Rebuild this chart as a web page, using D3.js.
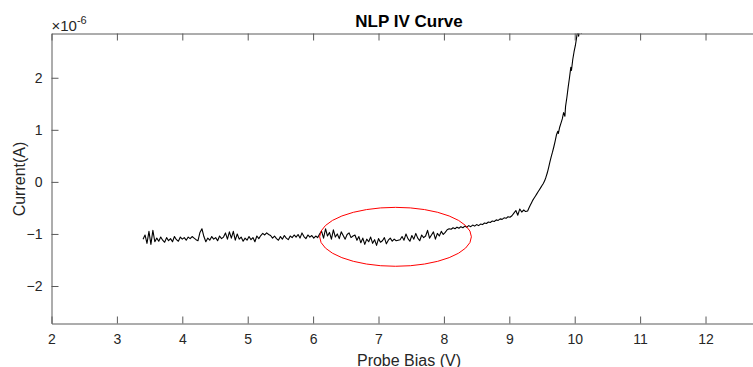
<!DOCTYPE html>
<html>
<head>
<meta charset="utf-8">
<script src="https://cdn.jsdelivr.net/npm/d3@7"></script>
<style>
  body { margin: 0; background: #fff; }
  svg { display: block; }
  text { font-family: "Liberation Sans", Arial, Helvetica, sans-serif; }
</style>
</head>
<body>
<svg id="chart" width="753" height="367"></svg>
<script>
// ---------------- DATA ----------------
const chartTitle = "NLP IV Curve";
const xLabel = "Probe Bias (V)";
const yLabel = "Current(A)";
const yExponent = "-6";

const xTicks = [2, 3, 4, 5, 6, 7, 8, 9, 10, 11, 12];
const yTicks = [-2, -1, 0, 1, 2];
const xDomain = [2, 12.94];
const yDomain = [-2.72, 2.85];   // in units of 1e-6 A

// Probe bias sweep (V)
const biasV = [
  3.40,3.43,3.46,3.49,3.52,3.55,3.58,3.61,3.64,3.67,
  3.70,3.73,3.76,3.79,3.82,3.85,3.88,3.91,3.94,3.97,
  4.00,4.03,4.06,4.09,4.12,4.15,4.18,4.21,4.24,4.27,
  4.30,4.33,4.36,4.39,4.42,4.45,4.48,4.51,4.54,4.57,
  4.60,4.63,4.66,4.69,4.72,4.75,4.78,4.81,4.84,4.87,
  4.90,4.93,4.96,4.99,5.02,5.05,5.08,5.11,5.14,5.17,
  5.20,5.23,5.26,5.29,5.32,5.35,5.38,5.41,5.44,5.47,
  5.50,5.53,5.56,5.59,5.62,5.65,5.68,5.71,5.74,5.77,
  5.80,5.83,5.86,5.89,5.92,5.95,5.98,6.01,6.04,6.07,
  6.10,6.13,6.16,6.19,6.22,6.25,6.28,6.31,6.34,6.37,
  6.40,6.43,6.46,6.49,6.52,6.55,6.58,6.61,6.64,6.67,
  6.70,6.73,6.76,6.79,6.82,6.85,6.88,6.91,6.94,6.97,
  7.00,7.03,7.06,7.09,7.12,7.15,7.18,7.21,7.24,7.27,
  7.30,7.33,7.36,7.39,7.42,7.45,7.48,7.51,7.54,7.57,
  7.60,7.63,7.66,7.69,7.72,7.75,7.78,7.81,7.84,7.87,
  7.90,7.93,7.96,7.99,8.02,8.05,8.08,8.11,8.14,8.17,
  8.20,8.23,8.26,8.29,8.32,8.35,8.38,8.41,8.44,8.47,
  8.50,8.53,8.56,8.59,8.62,8.65,8.68,8.71,8.74,8.77,
  8.80,8.83,8.86,8.89,8.92,8.95,8.98,9.01,9.04,9.07,
  9.10,9.13,9.16,9.19,9.22,9.25,
  9.28,9.30,9.32,9.34,9.36,9.38,9.40,9.42,9.44,9.46,
  9.48,9.50,9.52,9.54,9.56,9.58,9.60,9.62,9.64,9.66,
  9.68,9.70,9.72,9.74,9.75,9.77,9.79,9.81,9.83,9.85,
  9.86,9.88,9.90,9.92,9.94,9.95,9.97,9.99,10.01,10.03,
  10.05,10.06,10.08,10.10,10.12
];

// Probe current (x 1e-6 A)
const currentUA = [
  -1.10,-1.02,-1.18,-0.95,-1.20,-0.93,-1.15,
  -1.08,-1.14,-1.06,-1.12,-1.16,-1.07,-1.13,-1.09,-1.15,-1.05,-1.11,-1.14,-1.06,
  -1.10,-1.07,-1.12,-1.06,-1.09,-1.05,-1.08,-1.11,
  -1.13,-0.97,-0.90,-1.05,-1.15,
  -1.08,-1.12,-1.05,-1.10,-1.07,-1.13,-1.04,-1.09,-1.06,
  -0.98,-1.10,-0.96,-1.08,-0.95,-1.12,-1.00,
  -1.10,-1.06,-1.14,-1.08,-1.12,-1.05,-1.11,-1.07,-1.15,-1.04,-1.09,-1.03,
  -0.99,-1.02,-0.98,-1.01,-1.03,
  -1.08,-1.04,-1.09,-1.12,-1.05,-1.10,-1.03,-1.08,-1.11,-1.04,-1.07,-1.02,
  -1.06,-1.01,-1.08,-0.98,-1.05,-1.09,-1.02,-1.06,-1.03,-1.08,-1.04,-1.07,
  -1.00,-0.95,-1.08,-0.90,-1.04,-0.97,-1.10,-0.92,-1.06,-1.00,-1.09,-0.96,-1.03,-1.10,-1.01,-0.98,-1.07,-1.04,
  -1.02,-1.12,-1.05,-1.17,-1.08,-1.20,-1.10,-1.15,-1.06,-1.18,-1.11,-1.22,-1.09,-1.16,-1.13,-1.07,-1.19,-1.12,-1.08,-1.14,-1.10,-1.13,-1.12,-1.11,
  -1.05,-1.12,-1.00,-1.09,-1.14,-1.03,-1.10,-0.99,-1.08,-1.13,-1.02,-1.07,-1.04,
  -0.93,-1.08,-1.02,-0.96,-1.10,-0.99,-1.04,-0.95,-1.01,-0.97,-0.92,
  -0.90,-0.91,-0.88,-0.90,-0.87,-0.89,-0.86,-0.88,-0.85,-0.87,-0.84,-0.86,-0.83,-0.85,
  -0.82,-0.84,-0.81,-0.82,-0.79,-0.80,-0.77,-0.78,-0.75,-0.76,-0.73,-0.74,-0.71,-0.72,-0.69,-0.70,-0.67,-0.68,-0.65,
  -0.60,-0.55,-0.64,-0.52,-0.58,-0.54,-0.57,
  -0.56,-0.50,-0.45,-0.40,-0.35,-0.31,-0.27,-0.23,-0.19,-0.15,
  -0.11,-0.07,-0.03,0.02,0.09,0.17,0.27,0.38,0.48,0.57,
  0.67,0.78,0.90,0.97,0.93,1.05,1.13,1.21,1.33,1.26,
  1.45,1.62,1.82,2.00,2.20,2.14,2.35,2.50,2.62,2.78,
  2.95,2.80,3.00,2.85,3.10
];

// Highlight ellipse (data units: V, 1e-6 A)
const ellipseCenter = [7.26, -1.055];
const ellipseRadii = [1.16, 0.566];

// ---------------- CHART ----------------
const svg = d3.select("#chart");
const plot = { left: 51.5, right: 767, top: 33.5, bottom: 323.5 };

const x = d3.scaleLinear().domain(xDomain).range([plot.left, plot.right]);
const y = d3.scaleLinear().domain(yDomain).range([plot.bottom, plot.top]);

const axisColor = "#5a5a5a";
const textColor = "#262626";

svg.append("defs").append("clipPath").attr("id", "clip")
  .append("rect")
  .attr("x", plot.left).attr("y", plot.top)
  .attr("width", plot.right - plot.left).attr("height", plot.bottom - plot.top);

// data line
const data = biasV.map((b, i) => [b, currentUA[i]]);
svg.append("path")
  .datum(data)
  .attr("clip-path", "url(#clip)")
  .attr("fill", "none")
  .attr("stroke", "#000")
  .attr("stroke-width", 1.1)
  .attr("stroke-linejoin", "round")
  .attr("d", d3.line().x(d => x(d[0])).y(d => y(d[1])));

// ellipse
svg.append("ellipse")
  .attr("cx", x(ellipseCenter[0]))
  .attr("cy", y(ellipseCenter[1]))
  .attr("rx", x(ellipseCenter[0] + ellipseRadii[0]) - x(ellipseCenter[0]))
  .attr("ry", y(ellipseCenter[1] - ellipseRadii[1]) - y(ellipseCenter[1]))
  .attr("fill", "none")
  .attr("stroke", "#ff0000")
  .attr("stroke-width", 1);

function styleAxis(g) {
  g.selectAll(".domain").attr("stroke", axisColor);
  g.selectAll(".tick line").attr("stroke", axisColor);
  g.selectAll(".tick text").attr("fill", textColor).style("font-size", "14px")
    .style("font-family", '"Liberation Sans", Arial, Helvetica, sans-serif');
}

// bottom axis
svg.append("g")
  .attr("transform", `translate(0,${plot.bottom})`)
  .call(d3.axisBottom(x).tickValues(xTicks).tickFormat(d3.format("d"))
    .tickSizeInner(-7).tickSizeOuter(0).tickPadding(10.5))
  .call(styleAxis);

// top axis (box)
svg.append("g")
  .attr("transform", `translate(0,${plot.top})`)
  .call(d3.axisTop(x).tickValues(xTicks).tickFormat("")
    .tickSizeInner(-7).tickSizeOuter(0))
  .call(styleAxis);

// left axis
svg.append("g")
  .attr("transform", `translate(${plot.left},0)`)
  .call(d3.axisLeft(y).tickValues(yTicks).tickFormat(d3.format("d"))
    .tickSizeInner(-7).tickSizeOuter(0).tickPadding(9))
  .call(styleAxis);

// exponent label
const ex = svg.append("text")
  .attr("x", 51.5).attr("y", 31)
  .attr("fill", textColor)
  .style("font-size", "15px");
ex.append("tspan").text("\u00d710");
ex.append("tspan").attr("dy", -7).style("font-size", "11px").text(yExponent);

// title
svg.append("text")
  .attr("x", 409).attr("y", 27)
  .attr("text-anchor", "middle")
  .attr("fill", "#000")
  .style("font-size", "17px").style("font-weight", "bold")
  .text(chartTitle);

// x label
svg.append("text")
  .attr("x", 409).attr("y", 365.5)
  .attr("text-anchor", "middle")
  .attr("fill", textColor)
  .style("font-size", "16px")
  .text(xLabel);

// y label
svg.append("text")
  .attr("transform", "translate(25,179) rotate(-90)")
  .attr("text-anchor", "middle")
  .attr("fill", textColor)
  .style("font-size", "16px")
  .text(yLabel);
</script>
</body>
</html>
